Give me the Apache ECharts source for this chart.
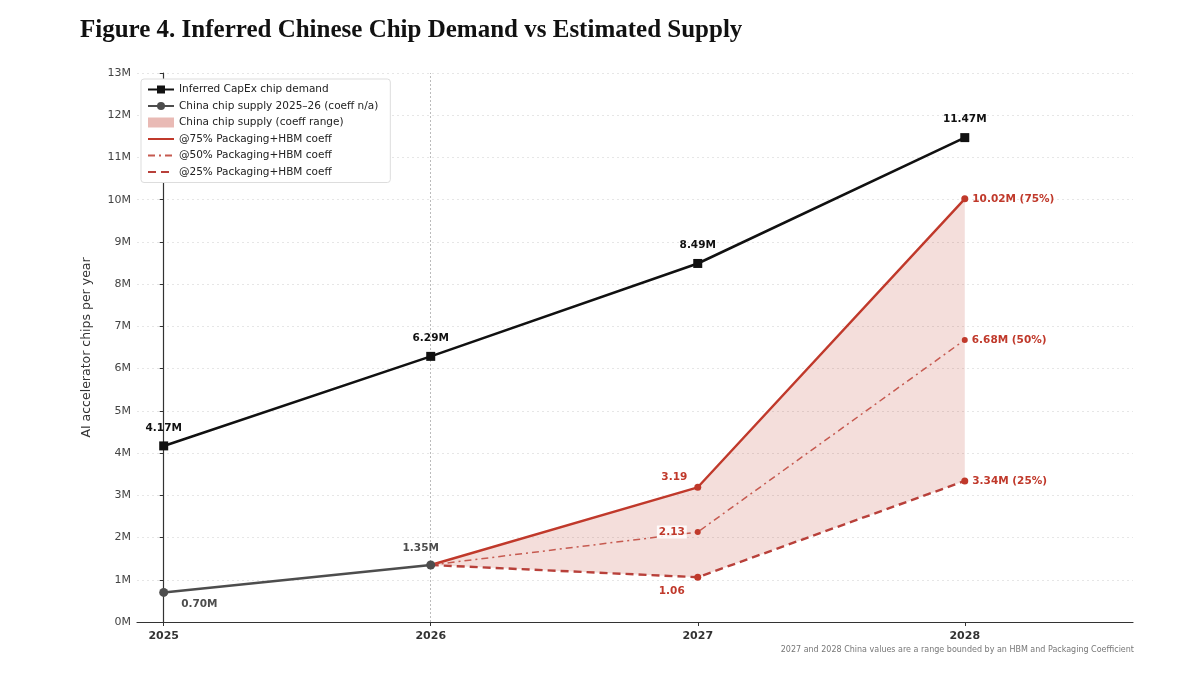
<!DOCTYPE html>
<html>
<head>
<meta charset="utf-8">
<script src="https://cdn.jsdelivr.net/npm/echarts@6/dist/echarts.min.js"></script>
<style>
  html, body { margin: 0; padding: 0; background: #fff; }
  #chart { width: 1200px; height: 675px; }
</style>
</head>
<body>
<div id="chart"></div>
<script>
// chart values
const years = ['2025', '2026', '2027', '2028'];
const demand = [4.17, 6.29, 8.49, 11.47];
const supplyEarly = [0.70, 1.35];          // 2025-2026
const supply75 = [1.35, 3.19, 10.02];      // 2026-2028
const supply50 = [1.35, 2.13, 6.68];
const supply25 = [1.35, 1.06, 3.34];
const yTicks = [0, 1, 2, 3, 4, 5, 6, 7, 8, 9, 10, 11, 12, 13];

const RED = '#c0392b';
const GREY = '#4d4d4d';
const FONT = 'DejaVu Sans';

// x positions are category indexes on a value axis
const xs = years.map((_, i) => i);
const pts = (vals, start) => vals.map((v, i) => [start + i, v]);

// band points: [x, hi, lo]
const bandPts = supply75.map((hi, i) => [1 + i, hi, supply25[i]]);

const chart = echarts.init(document.getElementById('chart'), null, {renderer: 'canvas'});

const labelBase = {show: true, fontFamily: FONT, fontWeight: 'bold', fontSize: 10.5};

const option = {
  backgroundColor: '#fff',
  animation: false,
  title: {
    text: 'Figure 4. Inferred Chinese Chip Demand vs Estimated Supply',
    left: 75, top: 13,
    textStyle: {fontFamily: 'Liberation Serif', fontWeight: 'bold', fontSize: 25, color: '#111'}
  },
  graphic: [{
    type: 'text', right: 66, top: 646,
    style: {
      text: '2027 and 2028 China values are a range bounded by an HBM and Packaging Coefficient',
      fontFamily: FONT, fontSize: 8, fill: '#777'
    }
  }],
  legend: {
    orient: 'vertical', left: 141, top: 79,
    itemWidth: 26, itemHeight: 10, itemGap: 5.5,
    padding: [5, 12, 5, 6],
    backgroundColor: '#fff', borderColor: '#ddd', borderWidth: 1, borderRadius: 3,
    textStyle: {fontFamily: FONT, fontSize: 10.5, color: '#222'},
    data: [
      {name: 'Inferred CapEx chip demand'},
      {name: 'China chip supply 2025–26 (coeff n/a)'},
      {name: 'China chip supply (coeff range)', icon: 'rect', itemStyle: {color: 'rgba(192,57,43,0.35)'}},
      {name: '@75% Packaging+HBM coeff', itemStyle: {opacity: 0}},
      {name: '@50% Packaging+HBM coeff', itemStyle: {opacity: 0}},
      {name: '@25% Packaging+HBM coeff', itemStyle: {opacity: 0}}
    ]
  },
  grid: {left: 137, right: 67, top: 73, bottom: 53, containLabel: false},
  xAxis: {
    type: 'value', min: -0.1, max: 3.63,
    axisLine: {lineStyle: {color: '#333', width: 1.2}},
    axisTick: {show: true, customValues: xs, length: 4, lineStyle: {color: '#333'}},
    axisLabel: {
      customValues: xs, margin: 9,
      fontFamily: FONT, fontWeight: 'bold', fontSize: 11, color: '#333',
      formatter: v => years[Math.round(v)]
    },
    splitLine: {show: false}
  },
  yAxis: {
    type: 'value', min: yTicks[0], max: yTicks[yTicks.length - 1], interval: 1,
    name: 'AI accelerator chips per year', nameLocation: 'middle', nameGap: 44,
    nameTextStyle: {fontFamily: FONT, fontSize: 12.5, color: '#333'},
    axisLine: {show: true, lineStyle: {color: '#333', width: 1.2}},
    axisTick: {show: true, length: 4, lineStyle: {color: '#333'}},
    axisLabel: {fontFamily: FONT, fontSize: 11, color: '#444', margin: 6, formatter: '{value}M'},
    splitLine: {show: true, lineStyle: {color: '#e6e6e6', type: [2, 3], width: 1}}
  },
  series: [
    {
      name: 'China chip supply (coeff range)', type: 'custom', z: 1,
      data: bandPts,
      renderItem: (params, api) => {
        // whole band drawn once, from the 75% edge forward and the 25% edge back
        if (params.dataIndex !== 0) return null;
        const upper = bandPts.map(p => api.coord([p[0], p[1]]));
        const lower = bandPts.map(p => api.coord([p[0], p[2]])).reverse();
        return {
          type: 'polygon',
          shape: {points: upper.concat(lower)},
          style: {fill: 'rgba(192,57,43,0.17)'}
        };
      },
      itemStyle: {color: 'rgba(192,57,43,0.35)'},
      encode: {x: 0, y: [1, 2]},
      markLine: {
        silent: true, symbol: 'none', label: {show: false},
        lineStyle: {color: '#bbb', type: [2, 2], width: 1},
        data: [{xAxis: 1}]
      }
    },
    {
      name: 'Inferred CapEx chip demand', type: 'line', z: 5,
      data: pts(demand, 0),
      symbol: 'rect', symbolSize: 9,
      lineStyle: {color: '#111', width: 2.6},
      itemStyle: {color: '#111'},
      label: Object.assign({}, labelBase, {position: 'top', distance: 8, color: '#111', formatter: p => p.value[1].toFixed(2) + 'M'})
    },
    {
      name: 'China chip supply 2025–26 (coeff n/a)', type: 'line', z: 6,
      data: pts(supplyEarly, 0).map((d, i) => ({
        value: d,
        label: i === 0 ? {position: 'right', offset: [8, 12]} : {position: 'top', offset: [-10, -2]}
      })),
      symbol: 'circle', symbolSize: 9,
      lineStyle: {color: GREY, width: 2.6},
      itemStyle: {color: GREY},
      label: Object.assign({}, labelBase, {color: GREY, formatter: p => p.value[1].toFixed(2) + 'M'})
    },
    {
      name: '@75% Packaging+HBM coeff', type: 'line', z: 4,
      data: pts(supply75, 1).map((d, i) => ({
        value: d, symbol: i === 0 ? 'none' : 'circle',
        label: i === 0 ? {show: false} : i === 1 ? {position: 'left', offset: [-2, -10]} : {position: 'right', distance: 4}
      })),
      symbolSize: 7,
      lineStyle: {color: RED, width: 2.4},
      itemStyle: {color: RED},
      label: Object.assign({}, labelBase, {color: RED,
        formatter: p => p.dataIndex === 2 ? p.value[1].toFixed(2) + 'M (75%)' : p.value[1].toFixed(2)})
    },
    {
      name: '@50% Packaging+HBM coeff', type: 'line', z: 4,
      data: pts(supply50, 1).map((d, i) => ({
        value: d, symbol: i === 0 ? 'none' : 'circle',
        label: i === 0 ? {show: false} : i === 1 ? {position: 'left', distance: 8, backgroundColor: 'rgba(255,255,255,0.85)', padding: [1, 2]} : {position: 'right', distance: 4}
      })),
      symbolSize: 6,
      lineStyle: {color: '#c65a50', width: 1.5, type: [7, 4, 2, 4]},
      itemStyle: {color: RED},
      label: Object.assign({}, labelBase, {color: RED,
        formatter: p => p.dataIndex === 2 ? p.value[1].toFixed(2) + 'M (50%)' : p.value[1].toFixed(2)})
    },
    {
      name: '@25% Packaging+HBM coeff', type: 'line', z: 4,
      data: pts(supply25, 1).map((d, i) => ({
        value: d, symbol: i === 0 ? 'none' : 'circle',
        label: i === 0 ? {show: false} : i === 1 ? {position: 'bottom', offset: [-26, 0]} : {position: 'right', distance: 4}
      })),
      symbolSize: 7,
      lineStyle: {color: '#b8403a', width: 2.4, type: [8, 5]},
      itemStyle: {color: RED},
      label: Object.assign({}, labelBase, {color: RED,
        formatter: p => p.dataIndex === 2 ? p.value[1].toFixed(2) + 'M (25%)' : p.value[1].toFixed(2)})
    }
  ]
};

chart.setOption(option);
</script>
</body>
</html>
